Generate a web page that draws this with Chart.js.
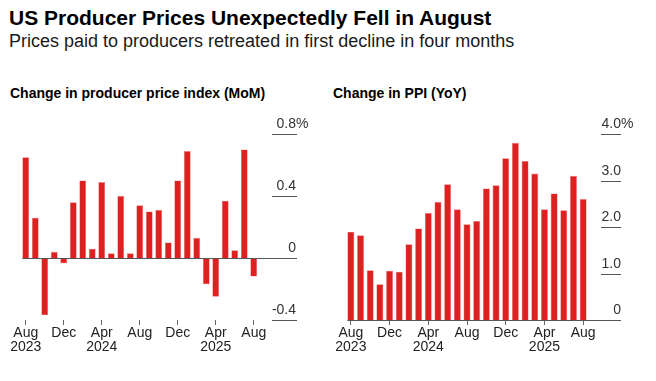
<!DOCTYPE html>
<html>
<head>
<meta charset="utf-8">
<script src="https://cdn.jsdelivr.net/npm/chart.js@4.4.1/dist/chart.umd.min.js"></script>
<style>
  body { margin: 0; background: #fff; }
  #cntr { position: relative; width: 656px; height: 381px; overflow: hidden; font-family: 'Liberation Sans', Arial, Helvetica, sans-serif; }
  .txt { position: absolute; white-space: nowrap; color: #000; }
  #titulo { left: 9px; top: 7px; font-size: 21px; line-height: 21px; font-weight: bold; }
  #subtitulo { left: 9px; top: 32px; font-size: 18px; line-height: 18px; color: #1a1a1a; }
  .sub { top: 86px; font-size: 14px; line-height: 14px; font-weight: bold; }
  canvas { position: absolute; top: 100px; }
</style>
</head>
<body>
<div id="cntr">
  <div id="titulo" class="txt">US Producer Prices Unexpectedly Fell in August</div>
  <div id="subtitulo" class="txt">Prices paid to producers retreated in first decline in four months</div>
  <div class="txt sub" style="left:10px">Change in producer price index (MoM)</div>
  <div class="txt sub" style="left:333px">Change in PPI (YoY)</div>
  <canvas id="graficaMom" width="320" height="260" style="left:0px"></canvas>
  <canvas id="graficaYoy" width="336" height="260" style="left:320px"></canvas>
</div>
<script>
// Datos
const meses = ['Aug 2023', 'Sep 2023', 'Oct 2023', 'Nov 2023', 'Dec 2023', 'Jan 2024', 'Feb 2024',
  'Mar 2024', 'Apr 2024', 'May 2024', 'Jun 2024', 'Jul 2024', 'Aug 2024', 'Sep 2024', 'Oct 2024',
  'Nov 2024', 'Dec 2024', 'Jan 2025', 'Feb 2025', 'Mar 2025', 'Apr 2025', 'May 2025', 'Jun 2025',
  'Jul 2025', 'Aug 2025'];
const momValores = [0.65, 0.26, -0.37, 0.04, -0.035, 0.36, 0.50, 0.06, 0.49, 0.03, 0.40, 0.03, 0.34,
  0.30, 0.31, 0.10, 0.50, 0.69, 0.13, -0.17, -0.25, 0.37, 0.05, 0.70, -0.12];
const yoyValores = [1.90, 1.82, 1.07, 0.77, 1.06, 1.04, 1.63, 1.97, 2.30, 2.54, 2.92, 2.38, 2.06,
  2.13, 2.83, 2.90, 3.48, 3.81, 3.42, 3.15, 2.38, 2.72, 2.36, 3.10, 2.60];
// Etiquetas del eje X (indice -> texto)
const xTickIndices = [0, 4, 8, 12, 16, 20, 24];
const xTickTextos = [['Aug', '2023'], 'Dec', ['Apr', '2024'], 'Aug', 'Dec', ['Apr', '2025'], 'Aug'];
// Etiquetas del eje Y
const momTicks = [-0.4, 0, 0.4, 0.8];
const momTickTextos = ['-0.4', '0', '0.4', '0.8'];
const yoyTicks = [0, 1, 2, 3, 4];
const yoyTickTextos = ['0', '1.0', '2.0', '3.0', '4.0'];

const FUENTE = "'Liberation Sans', Arial, Helvetica, sans-serif";
const ROJO = '#dd2121';

/**
 * * Plugin que dibuja la linea de cero, las lineas cortas y las etiquetas a la derecha
 */
const ejeDerecho = {
  id: 'ejeDerecho',
  afterDatasetsDraw(chart, args, opts) {
    const ctx = chart.ctx;
    const y = chart.scales.y;
    const barras = chart.getDatasetMeta(0).data;
    ctx.save();
    ctx.strokeStyle = '#555';
    ctx.lineWidth = 1;
    opts.ticks.forEach((v, i) => {
      const py = Math.round(y.getPixelForValue(v)) + 0.5;
      const x1 = v === 0 ? barras[0].x - barras[0].width / 2 : opts.lineaDesde;
      ctx.beginPath();
      ctx.moveTo(x1, py);
      ctx.lineTo(opts.lineaHasta, py);
      ctx.stroke();
      // Texto encima de la linea
      ctx.fillStyle = '#333';
      ctx.font = '14px ' + FUENTE;
      ctx.textBaseline = 'alphabetic';
      ctx.textAlign = 'right';
      ctx.fillText(opts.textos[i], opts.textoX, py - 7);
      if (i === opts.ticks.length - 1) {
        ctx.textAlign = 'left';
        ctx.fillText('%', opts.textoX, py - 7);
      }
    });
    ctx.restore();
  }
};

function crear_grafica(id, valores, min, max, ticks, textos, padding, eje) {
  return new Chart(document.getElementById(id), {
    type: 'bar',
    data: {
      labels: meses,
      datasets: [{
        data: valores,
        backgroundColor: ROJO,
        borderColor: '#ee7a7a',
        borderWidth: 0.6,
        barPercentage: 0.72,
        categoryPercentage: 1
      }]
    },
    plugins: [ejeDerecho],
    options: {
      responsive: false,
      animation: false,
      devicePixelRatio: 1,
      layout: { padding: padding },
      plugins: {
        legend: { display: false },
        tooltip: { enabled: false },
        ejeDerecho: Object.assign({ ticks: ticks, textos: textos }, eje)
      },
      scales: {
        y: { display: false, min: min, max: max },
        x: {
          offset: true,
          border: { display: false },
          grid: { display: true, offset: false, drawOnChartArea: false, drawTicks: true, tickLength: 5, color: '#666' },
          ticks: {
            autoSkip: false,
            maxRotation: 0,
            padding: 1,
            color: '#222',
            font: { family: FUENTE, size: 14, lineHeight: 1 },
            callback: (v, i) => {
              const k = xTickIndices.indexOf(i);
              return k >= 0 ? xTickTextos[k] : null;
            }
          },
          afterFit: (s) => { s.height = 40; }
        }
      }
    }
  });
}

crear_grafica('graficaMom', momValores, -0.4, 0.8, momTicks, momTickTextos,
  { top: 34, left: 21, right: 61.5, bottom: 0 },
  { lineaDesde: 272, lineaHasta: 297, textoX: 296 });
crear_grafica('graficaYoy', yoyValores, 0, 4, yoyTicks, yoyTickTextos,
  { top: 34, left: 26, right: 68, bottom: 0 },
  { lineaDesde: 281, lineaHasta: 301, textoX: 301 });
</script>
</body>
</html>
